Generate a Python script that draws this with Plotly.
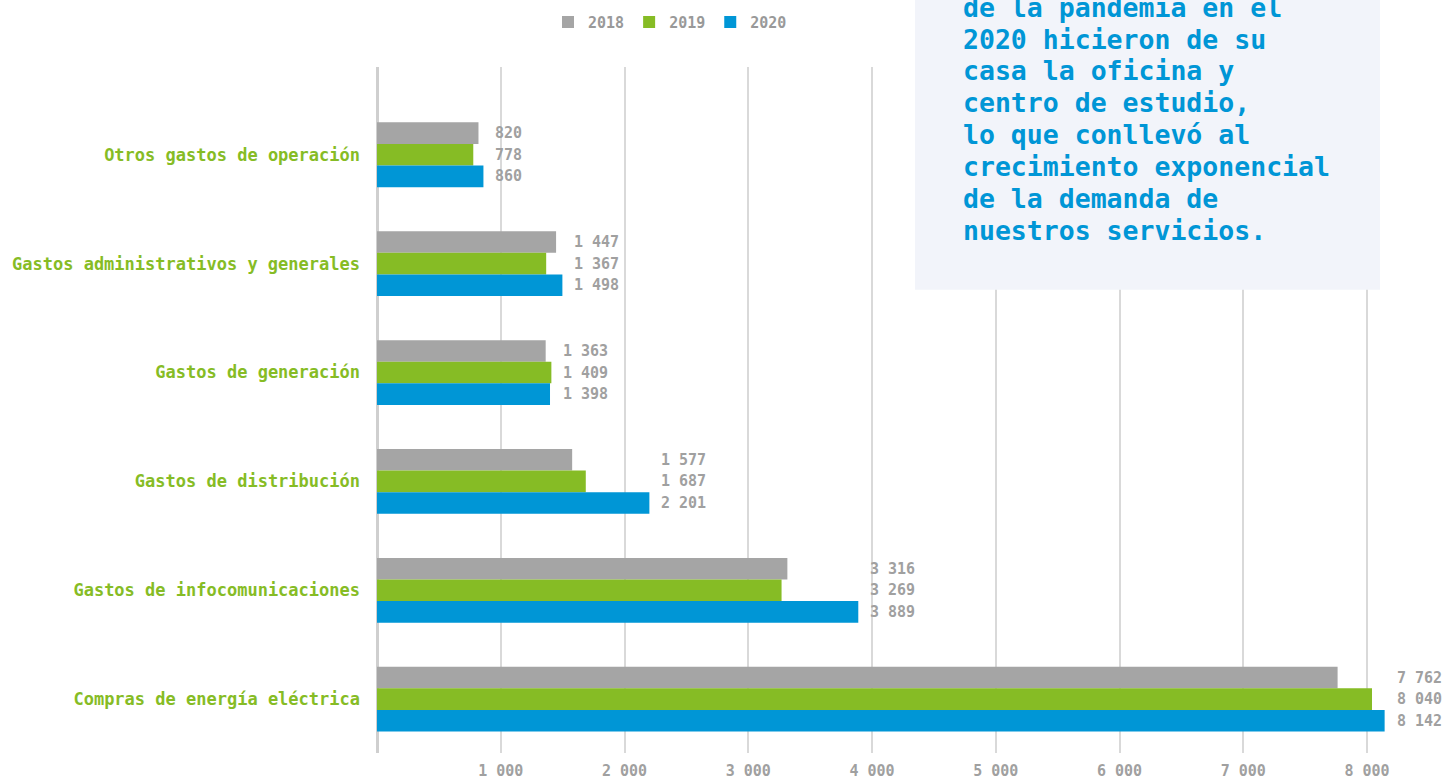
import plotly.graph_objects as go

categories = [
    "Otros gastos de operación",
    "Gastos administrativos y generales",
    "Gastos de generación",
    "Gastos de distribución",
    "Gastos de infocomunicaciones",
    "Compras de energía eléctrica",
]
series_names = ["2018", "2019", "2020"]
values_2018 = [820, 1447, 1363, 1577, 3316, 7762]
values_2019 = [778, 1367, 1409, 1687, 3269, 8040]
values_2020 = [860, 1498, 1398, 2201, 3889, 8142]
x_ticks = [1000, 2000, 3000, 4000, 5000, 6000, 7000, 8000]
note_lines = [
    "de la pandemia en el",
    "2020 hicieron de su",
    "casa la oficina y",
    "centro de estudio,",
    "lo que conllevó al",
    "crecimiento exponencial",
    "de la demanda de",
    "nuestros servicios.",
]

colors = ["#a5a5a5", "#86bc25", "#0096d6"]
FONT = "DejaVu Sans Mono"
W, H = 1447, 780
L, R, T, B = 377, 0, 67, 25
PW, PH = W - L - R, H - T - B


def fmt(v):
    return f"{v:,}".replace(",", " ")


def px_x(px):
    return (px - L) / PW


def px_y(py):
    return (H - B - py) / PH


fig = go.Figure()
all_series = [values_2018, values_2019, values_2020]
for name, vals, col in zip(series_names, all_series, colors):
    fig.add_trace(go.Bar(
        name=name, y=categories, x=vals, orientation="h",
        marker=dict(color=col, line=dict(width=0)),
        hoverinfo="x+y",
    ))

# data labels, aligned after the longest bar of each group
shifts = [21.6, 0, -21.6]
for i, cat in enumerate(categories):
    mx = max(s[i] for s in all_series)
    for s, sh in zip(all_series, shifts):
        fig.add_annotation(
            x=mx, y=cat, xref="x", yref="y", text=fmt(s[i]),
            showarrow=False, xanchor="left", yanchor="middle",
            xshift=10, yshift=sh,
            font=dict(family=FONT, size=15, color="#a0a0a0", weight="bold"),
        )

# note box
fig.add_shape(type="rect", xref="paper", yref="paper",
              x0=px_x(915), x1=px_x(1380), y0=px_y(290.5), y1=px_y(-5),
              fillcolor="#f2f4fa", line=dict(width=0), layer="above")
for k, line in enumerate(note_lines):
    fig.add_annotation(
        x=px_x(961), y=px_y(7 + 32 * k), xref="paper", yref="paper",
        text=line, showarrow=False, xanchor="left", yanchor="middle",
        font=dict(family=FONT, size=26.5, color="#0096d6", weight="bold"),
    )

fig.update_layout(
    width=W, height=H,
    margin=dict(l=L, r=R, t=T, b=B, pad=0),
    paper_bgcolor="white", plot_bgcolor="white",
    barmode="group", bargap=0.405, bargroupgap=0,
    showlegend=True,
    legend=dict(
        orientation="h", x=px_x(670), y=px_y(22),
        xanchor="center", yanchor="middle",
        font=dict(family=FONT, size=15, color="#999999", weight="bold"),
        itemwidth=30, bgcolor="rgba(0,0,0,0)",
    ),
    xaxis=dict(
        range=[0, 8646], tickvals=x_ticks, ticktext=[fmt(v) for v in x_ticks],
        showgrid=True, gridcolor="#d9d9d9", gridwidth=1.5,
        zeroline=True, zerolinecolor="#cfcfcf", zerolinewidth=3,
        showline=False, ticks="",
        tickfont=dict(family=FONT, size=15, color="#a0a0a0", weight="bold"),
        ticklabelstandoff=7,
    ),
    yaxis=dict(
        type="category", categoryorder="array", categoryarray=categories,
        range=[5.4945, -0.806],
        showgrid=False, zeroline=False, showline=False, ticks="",
        tickfont=dict(family=FONT, size=17, color="#86bc25", weight="bold"),
        ticklabelstandoff=16,
    ),
    font=dict(family=FONT),
)

fig.write_html(
    "out.html",
    config={"displayModeBar": False},
    post_script="document.body.style.margin='0';document.body.style.overflow='hidden';",
)
